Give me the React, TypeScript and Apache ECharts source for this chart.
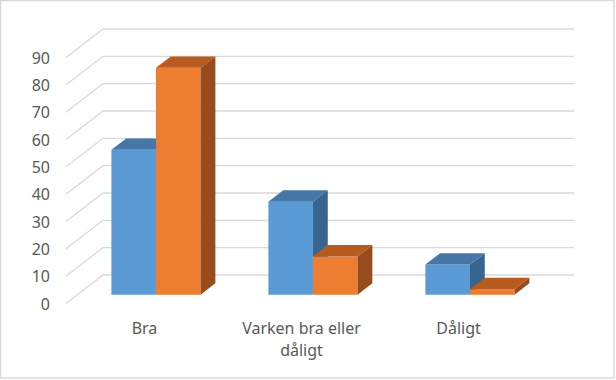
import React, { useEffect, useRef } from 'react';
import * as echarts from 'echarts';

const categories = ['Bra', 'Varken bra eller\ndåligt', 'Dåligt'];
const seriesBlue = [53, 34, 11];
const seriesOrange = [83, 14, 2];
const yTicks = [0, 10, 20, 30, 40, 50, 60, 70, 80, 90];

const DEPTH_X = 37;
const DEPTH_Y = 28.5;
const BAR_FRONT = 0.31;
const BAR_BACK = 0.71;
const BAR_W = 0.284;

const BLUE = ['#5B9BD5', '#4677A6', '#386590'];
const ORANGE = ['#ED7D31', '#B65C21', '#984C1D'];

function barRender(colors: string[], side: number) {
  return (params: any, api: any) => {
    const cat = api.value(0);
    const v = api.value(1);
    const base = api.coord([cat, 0]);
    const top = api.coord([cat, v]);
    const band = api.size([1, 0])[0];
    const w = band * BAR_W;
    const fx = DEPTH_X * BAR_FRONT;
    const fy = DEPTH_Y * BAR_FRONT;
    const ddx = DEPTH_X * (BAR_BACK - BAR_FRONT);
    const ddy = DEPTH_Y * (BAR_BACK - BAR_FRONT);
    const x0 = base[0] + fx + (side < 0 ? -w : 0);
    const x1 = x0 + w;
    const yb = base[1] - fy;
    const yt = top[1] - fy;
    return {
      type: 'group',
      children: [
        {
          type: 'polygon',
          shape: { points: [[x0, yb], [x1, yb], [x1, yt], [x0, yt]] },
          style: { fill: colors[0] },
        },
        {
          type: 'polygon',
          shape: { points: [[x0, yt], [x1, yt], [x1 + ddx, yt - ddy], [x0 + ddx, yt - ddy]] },
          style: { fill: colors[1] },
        },
        {
          type: 'polygon',
          shape: { points: [[x1, yb], [x1 + ddx, yb - ddy], [x1 + ddx, yt - ddy], [x1, yt]] },
          style: { fill: colors[2] },
        },
      ],
    };
  };
}

function gridRender(params: any, api: any) {
  const v = api.value(1);
  const p = api.coord([0, v]);
  const cs = params.coordSys;
  const left = cs.x;
  const right = cs.x + cs.width;
  const y = p[1];
  return {
    type: 'polyline',
    shape: {
      points: [
        [left, y],
        [left + DEPTH_X, y - DEPTH_Y],
        [right + DEPTH_X, y - DEPTH_Y],
      ],
    },
    style: { stroke: '#D9D9D9', lineWidth: 1.3, fill: 'none' },
  };
}

export default function App() {
  const ref = useRef<HTMLDivElement>(null);
  useEffect(() => {
    if (!ref.current) return;
    const chart = echarts.init(ref.current, undefined, { renderer: 'svg' });
    const font = 'Noto Sans';
    chart.setOption({
      animation: false,
      backgroundColor: '#FFFFFF',
      graphic: [
        {
          type: 'rect',
          shape: { x: 0.5, y: 0.5, width: 613.5, height: 377.5 },
          style: { fill: 'none', stroke: '#D9D9D9', lineWidth: 1.5 },
          z: 100,
        },
      ],
      grid: { left: 66, right: 79, top: 57.5, bottom: 76.5 },
      xAxis: {
        type: 'category',
        data: categories,
        axisLine: { show: false },
        axisTick: { show: false },
        splitLine: { show: false },
        axisLabel: {
          color: '#595959',
          fontFamily: font,
          fontSize: 16,
          lineHeight: 22,
          margin: 13,
          interval: 0,
        },
      },
      yAxis: {
        type: 'value',
        min: 0,
        max: 90,
        interval: 10,
        axisLine: { show: false },
        axisTick: { show: false },
        splitLine: { show: false },
        axisLabel: {
          color: '#595959',
          fontFamily: font,
          fontSize: 16,
          margin: 16,
        },
      },
      series: [
        {
          type: 'custom',
          name: 'grid',
          renderItem: gridRender,
          data: yTicks.map((t) => [0, t]),
          encode: { x: 0, y: 1 },
          z: 1,
          silent: true,
        },
        {
          type: 'custom',
          name: 'Serie 1',
          renderItem: barRender(BLUE, -1),
          data: seriesBlue.map((v, i) => [i, v]),
          encode: { x: 0, y: 1 },
          z: 2,
        },
        {
          type: 'custom',
          name: 'Serie 2',
          renderItem: barRender(ORANGE, 1),
          data: seriesOrange.map((v, i) => [i, v]),
          encode: { x: 0, y: 1 },
          z: 3,
        },
      ],
    });
    return () => chart.dispose();
  }, []);
  return (
    <div
      ref={ref}
      style={{ position: 'fixed', left: 0, top: 0, width: 616, height: 380 }}
    />
  );
}
